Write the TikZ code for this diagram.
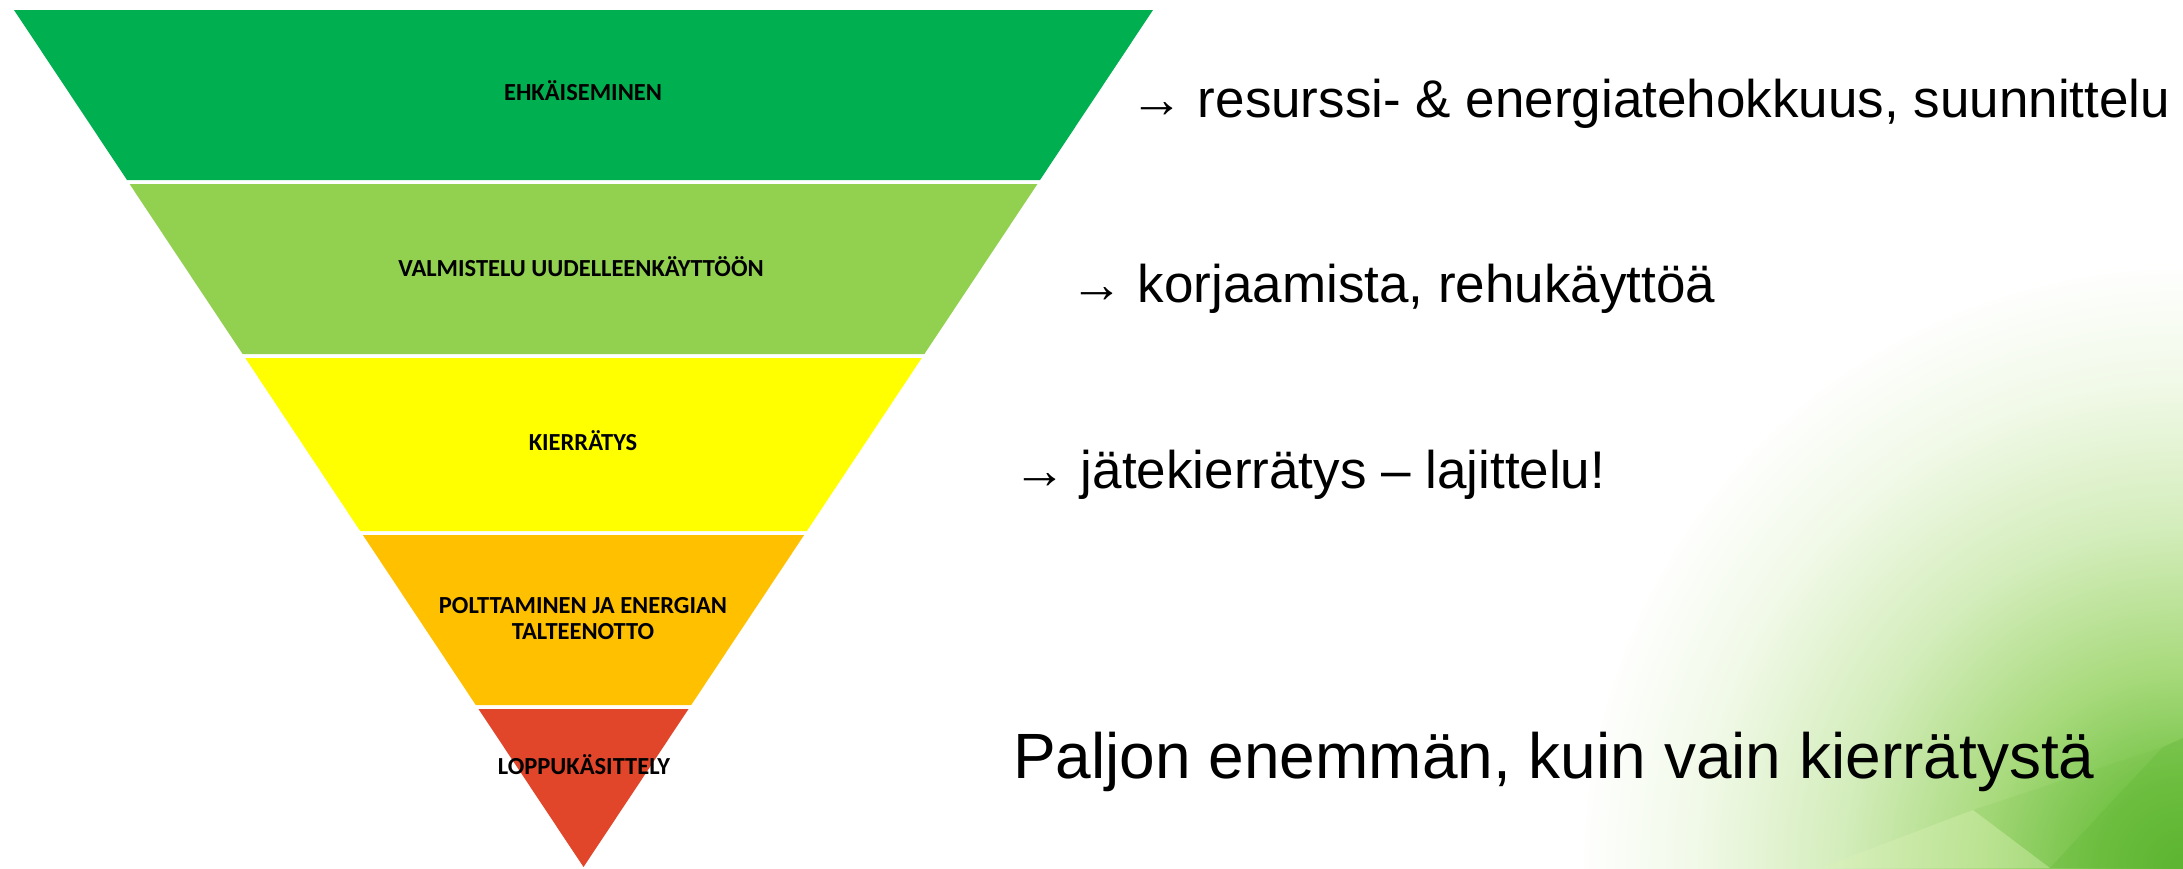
\documentclass[tikz,border=0pt]{standalone}
\usepackage{fontspec}
\setmainfont{Liberation Sans}
\newfontfamily\carl{Carlito}
\definecolor{bandA}{HTML}{00B050}
\definecolor{bandB}{HTML}{92D050}
\definecolor{bandC}{HTML}{FFFF00}
\definecolor{bandD}{HTML}{FFC000}
\definecolor{bandE}{HTML}{E2462A}
\definecolor{gz}{HTML}{5CB530}
\definecolor{ga}{HTML}{72C244}
\definecolor{gb}{HTML}{A8DA7C}
\definecolor{gc}{HTML}{D4EDBC}
\definecolor{gd}{HTML}{F1F9E8}
\definecolor{facetdark}{HTML}{5DB431}
\definecolor{facetlight}{HTML}{DDF3B8}
\pgfdeclareradialshading{bgglow}{\pgfpoint{0bp}{0bp}}{color(0bp)=(gz); color(3bp)=(ga); color(7.5bp)=(gb); color(13bp)=(gc); color(18.5bp)=(gd); color(23bp)=(white); color(50bp)=(white)}
\begin{document}
\begin{tikzpicture}[x=1pt,y=-1pt,
  lab/.style={font=\carl\bfseries\fontsize{24.5}{27}\selectfont, inner sep=0pt, anchor=base, align=center, text=black},
  side/.style={font=\fontsize{53}{60}\selectfont, inner sep=0pt, anchor=base west, text=black},
  big/.style={font=\fontsize{64}{70}\selectfont, inner sep=0pt, anchor=base west, text=black}]
\useasboundingbox (0,0) rectangle (2183,868);
\fill[white] (0,0) rectangle (2183,868);
% background glow
\begin{scope}
  \clip (0,0) rectangle (2183,868);
  \shade[shading=bgglow] (2183,868) circle (660pt);
  \fill[facetdark, opacity=0.35] (2163,747) -- (2183,738) -- (2183,868) -- (2050,868) -- cycle;
  \fill[facetdark, opacity=0.10] (2163,747) -- (1973,810) -- (2050,868) -- cycle;
  \fill[facetlight, opacity=0.35] (1973,810) -- (2050,868) -- (1820,868) -- cycle;
\end{scope}
% pyramid bands
\fill[bandA] (14,10) -- (1153,10) -- (1040,180) -- (127,180) -- cycle;
\fill[bandB] (129.6,184) -- (1037.4,184) -- (924.4,354) -- (242.6,354) -- cycle;
\fill[bandC] (245.3,358) -- (921.7,358) -- (806.8,531) -- (360.2,531) -- cycle;
\fill[bandD] (362.9,535) -- (804.1,535) -- (691.2,705) -- (475.8,705) -- cycle;
\fill[bandE] (478.5,709) -- (688.5,709) -- (583.5,867) -- cycle;
% band labels
\node[lab] (l1) at (583,100) {EHKÄISEMINEN};
\node[lab] (l2) at (581,276) {VALMISTELU UUDELLEENKÄYTTÖÖN};
\node[lab] (l3) at (583,450) {KIERRÄTYS};
\node[lab] (l4a) at (583,613) {POLTTAMINEN JA ENERGIAN};
\node[lab] (l4b) at (583,639) {TALTEENOTTO};
\node[lab] (l5) at (584,774) {LOPPUKÄSITTELY};
% side texts
\node[side] (t1) at (1130,117) {→ resurssi- \& energiatehokkuus, suunnittelu};
\node[side] (t2) at (1070,302) {→ korjaamista, rehukäyttöä};
\node[side] (t3) at (1013,488) {→ jätekierrätys – lajittelu!};
\node[big] (t4) at (1013,778) {Paljon enemmän, kuin vain kierrätystä};
\end{tikzpicture}
\end{document}
